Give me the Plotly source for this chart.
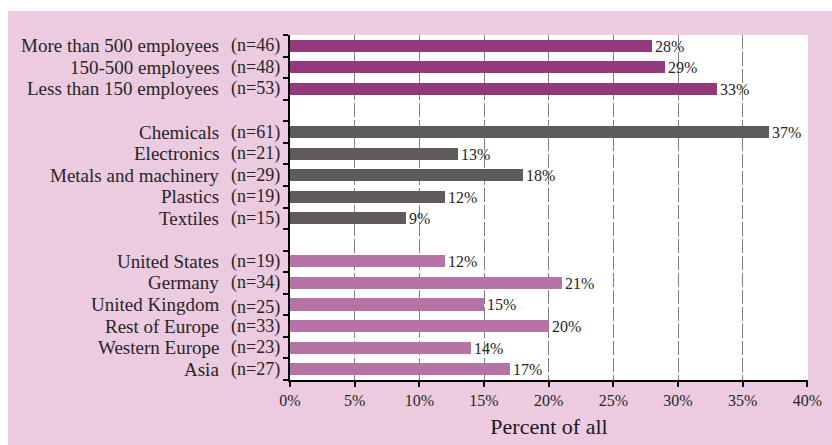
import plotly.graph_objects as go

# Share of firms, by company size, industry and region
size_labels = ["More than 500 employees", "150-500 employees", "Less than 150 employees"]
size_n = [46, 48, 53]
size_pct = [28, 29, 33]

industry_labels = ["Chemicals", "Electronics", "Metals and machinery", "Plastics", "Textiles"]
industry_n = [61, 21, 29, 19, 15]
industry_pct = [37, 13, 18, 12, 9]

region_labels = ["United States", "Germany", "United Kingdom", "Rest of Europe", "Western Europe", "Asia"]
region_n = [19, 34, 25, 33, 23, 27]
region_pct = [12, 21, 15, 20, 14, 17]

x_ticks = [0, 5, 10, 15, 20, 25, 30, 35, 40]

W, H = 832, 445
ML, MR, MT, MB = 290, 24, 35, 65
PW, PH = W - ML - MR, H - MT - MB

PINK_BG = "#ECCAE0"
SERIF = "Liberation Serif, Times New Roman, serif"
TEXT = "#262626"

groups = [
    (size_labels, size_n, size_pct, "#943A7C"),
    (industry_labels, industry_n, industry_pct, "#5F5B5A"),
    (region_labels, region_n, region_pct, "#B574A5"),
]

fig = go.Figure()
annotations = []
slot = 0
for labels, ns, pcts, color in groups:
    ys = list(range(slot, slot + len(labels)))
    fig.add_trace(go.Bar(
        x=pcts, y=ys, orientation="h",
        marker=dict(color=color, line=dict(width=0)),
        width=0.56,
        text=pcts, texttemplate="%{text}%", textposition="outside",
        constraintext="none",
        textfont=dict(family=SERIF, size=16, color=TEXT),
        cliponaxis=False, hoverinfo="skip", showlegend=False,
    ))
    for y, name, n in zip(ys, labels, ns):
        annotations.append(dict(
            x=(221 - ML) / PW, xref="paper", xanchor="right",
            y=y, yref="y", yanchor="middle",
            text=name, showarrow=False,
            font=dict(family=SERIF, size=19, color=TEXT),
        ))
        annotations.append(dict(
            x=(282 - ML) / PW, xref="paper", xanchor="right",
            y=y, yref="y", yanchor="middle",
            yshift=-3 if name == "United Kingdom" else 0,
            text=f"(n={n})", showarrow=False,
            font=dict(family=SERIF, size=18, color=TEXT),
        ))
    slot += len(labels) + 1

n_slots = slot - 1


def px_x(p):
    return (p - ML) / PW


def px_y(p):
    return 1 - (p - MT) / PH


# white page margin around the pink panel (top and left)
shapes = [
    dict(type="rect", xref="paper", yref="paper", layer="above",
         x0=px_x(-5), x1=px_x(W + 5), y0=px_y(11), y1=px_y(-5),
         fillcolor="white", line=dict(width=0)),
    dict(type="rect", xref="paper", yref="paper", layer="above",
         x0=px_x(-5), x1=px_x(8), y0=px_y(H + 5), y1=px_y(-5),
         fillcolor="white", line=dict(width=0)),
]

fig.update_layout(
    width=W, height=H,
    margin=dict(l=ML, r=MR, t=MT, b=MB, pad=0, autoexpand=False),
    paper_bgcolor=PINK_BG, plot_bgcolor="white",
    bargap=0, barmode="overlay",
    annotations=annotations, shapes=shapes,
    font=dict(family=SERIF, color=TEXT),
    xaxis=dict(
        range=[0, 40.05], tickvals=x_ticks,
        ticktext=[f"{v}%" for v in x_ticks],
        tickfont=dict(family=SERIF, size=16, color=TEXT),
        showgrid=True, gridcolor="#808080", gridwidth=1.3, griddash="14px,3px",
        showline=True, linecolor="black", linewidth=2,
        ticks="outside", ticklen=5, tickwidth=2, tickcolor="black",
        zeroline=False, fixedrange=True, automargin=False,
        title=dict(text="Percent of all", font=dict(family=SERIF, size=22, color="#1a1a1a"),
                   standoff=10),
    ),
    yaxis=dict(
        range=[n_slots - 0.5, -0.5],
        tickvals=[k - 0.5 for k in range(n_slots + 2)],
        ticktext=["" for _ in range(n_slots + 2)],
        showgrid=False, zeroline=False,
        showline=True, linecolor="black", linewidth=2,
        ticks="outside", ticklen=5, tickwidth=2, tickcolor="black",
        fixedrange=True, automargin=False,
    ),
)

fig.write_html("out.html")
